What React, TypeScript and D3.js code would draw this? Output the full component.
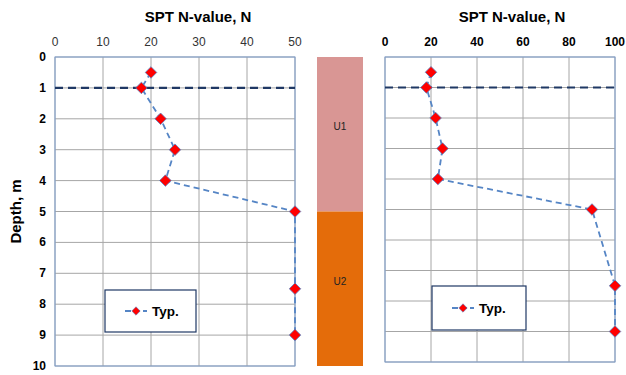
import React, { useRef, useEffect } from 'react';
import * as d3 from 'd3';

// SPT profile data (depth in m, N-value)
const depths = [0.5, 1, 2, 3, 4, 5, 7.5, 9];
const nLeft = [20, 18, 22, 25, 23, 50, 50, 50];
const nRight = [20, 18, 22, 25, 23, 90, 100, 100];
const leftTicks = [0, 10, 20, 30, 40, 50];
const rightTicks = [0, 20, 40, 60, 80, 100];
const depthTicks = [0, 1, 2, 3, 4, 5, 6, 7, 8, 9, 10];
const waterDepth = 1;
const units = [
  { name: 'U1', top: 0, bottom: 5, color: '#d99694' },
  { name: 'U2', top: 5, bottom: 10, color: '#e46c0a' },
];
const legendLabel = 'Typ.';
const titleText = 'SPT N-value, N';
const yLabel = 'Depth, m';

const FONT = 'Liberation Sans, Arial, sans-serif';

function drawPanel(svg, opts) {
  const { x0, x1, y0, y1, xMax, xTicks, values, boldTicks, showY, titleX, legend } = opts;
  const x = d3.scaleLinear().domain([0, xMax]).range([x0, x1]);
  const y = d3.scaleLinear().domain([0, 10]).range([y0, y1]);
  const g = svg.append('g');

  // gridlines
  g.selectAll('.vg').data(xTicks).enter().append('line')
    .attr('x1', d => x(d)).attr('x2', d => x(d))
    .attr('y1', y0).attr('y2', y1)
    .attr('stroke', '#a6a6a6').attr('stroke-width', 1);
  g.selectAll('.hg').data(depthTicks).enter().append('line')
    .attr('x1', x0).attr('x2', x1)
    .attr('y1', d => y(d)).attr('y2', d => y(d))
    .attr('stroke', '#a6a6a6').attr('stroke-width', 1);

  // frame
  g.append('rect')
    .attr('x', x0).attr('y', y0).attr('width', x1 - x0).attr('height', y1 - y0)
    .attr('fill', 'none').attr('stroke', '#7f9fcf').attr('stroke-width', 1);

  // top tick labels
  g.selectAll('.xt').data(xTicks).enter().append('text')
    .attr('x', d => x(d)).attr('y', y0 - 11)
    .attr('text-anchor', 'middle')
    .attr('font-family', FONT).attr('font-size', 12)
    .attr('font-weight', boldTicks ? 'bold' : 'normal')
    .attr('fill', boldTicks ? '#000' : '#333')
    .text(d => d);

  if (showY) {
    g.selectAll('.yt').data(depthTicks).enter().append('text')
      .attr('x', x0 - 9).attr('y', d => y(d) + 4)
      .attr('text-anchor', 'end')
      .attr('font-family', FONT).attr('font-size', 12).attr('font-weight', 'bold')
      .text(d => d);
    g.append('text')
      .attr('transform', `translate(21,${(y0 + y1) / 2}) rotate(-90)`)
      .attr('text-anchor', 'middle')
      .attr('font-family', FONT).attr('font-size', 15).attr('font-weight', 'bold')
      .text(yLabel);
  }

  // title
  g.append('text')
    .attr('x', titleX).attr('y', 22)
    .attr('text-anchor', 'middle')
    .attr('font-family', FONT).attr('font-size', 15).attr('font-weight', 'bold')
    .text(titleText);

  // groundwater line
  g.append('line')
    .attr('x1', x0).attr('x2', x1)
    .attr('y1', y(waterDepth)).attr('y2', y(waterDepth))
    .attr('stroke', '#1f3864').attr('stroke-width', 2.2)
    .attr('stroke-dasharray', '8,5');

  const pts = depths.map((d, i) => [x(values[i]), y(d)]);

  g.append('path')
    .attr('d', d3.line()(pts))
    .attr('fill', 'none').attr('stroke', '#5585c5').attr('stroke-width', 1.8)
    .attr('stroke-dasharray', '6,4');

  const diamond = d3.symbol().type(d3.symbolDiamond2).size(85);
  g.selectAll('.pt').data(pts).enter().append('path')
    .attr('d', diamond)
    .attr('transform', d => `translate(${d[0]},${d[1]})`)
    .attr('fill', '#ff0000').attr('stroke', '#5585c5').attr('stroke-width', 0.8);

  // legend
  const { lx, ly, lw, lh } = legend;
  g.append('rect')
    .attr('x', lx).attr('y', ly).attr('width', lw).attr('height', lh)
    .attr('fill', '#fff').attr('stroke', '#1f3864').attr('stroke-width', 1.2);
  const cy = ly + lh / 2;
  g.append('line')
    .attr('x1', lx + 20).attr('x2', lx + 42).attr('y1', cy).attr('y2', cy)
    .attr('stroke', '#5585c5').attr('stroke-width', 1.8).attr('stroke-dasharray', '6,3');
  g.append('path')
    .attr('d', d3.symbol().type(d3.symbolDiamond2).size(45))
    .attr('transform', `translate(${lx + 31},${cy})`)
    .attr('fill', '#ff0000').attr('stroke', '#5585c5').attr('stroke-width', 0.6);
  g.append('text')
    .attr('x', lx + 47).attr('y', cy + 5)
    .attr('font-family', FONT).attr('font-size', 13.5).attr('font-weight', 'bold')
    .text(legendLabel);

  return y;
}

function App() {
  const ref = useRef<SVGSVGElement>(null);

  useEffect(() => {
    const svg = d3.select(ref.current);
    svg.selectAll('*').remove();

    svg.append('rect').attr('width', 626).attr('height', 375).attr('fill', '#fff');

    const yLeft = drawPanel(svg, {
      x0: 55, x1: 295, y0: 57, y1: 366, xMax: 50, xTicks: leftTicks, values: nLeft,
      boldTicks: false, showY: true, titleX: 198,
      legend: { lx: 105, ly: 290, lw: 91, lh: 42 },
    });

    drawPanel(svg, {
      x0: 385, x1: 615, y0: 57, y1: 362, xMax: 100, xTicks: rightTicks, values: nRight,
      boldTicks: true, showY: false, titleX: 512,
      legend: { lx: 432, ly: 286, lw: 94, lh: 44 },
    });

    // soil units column
    const col = svg.append('g');
    col.selectAll('rect').data(units).enter().append('rect')
      .attr('x', 317).attr('width', 46)
      .attr('y', d => yLeft(d.top))
      .attr('height', d => yLeft(d.bottom) - yLeft(d.top))
      .attr('fill', d => d.color);
    col.selectAll('text').data(units).enter().append('text')
      .attr('x', 340)
      .attr('y', d => yLeft(d.top) + (yLeft(d.bottom) - yLeft(d.top)) / 2 - 4)
      .attr('text-anchor', 'middle')
      .attr('font-family', FONT).attr('font-size', 10).attr('fill', '#222')
      .text(d => d.name);
  }, []);

  return (
    <svg ref={ref} width={626} height={375}
      style={{ position: 'absolute', left: 0, top: 0, display: 'block' }} />
  );
}

export default App;
